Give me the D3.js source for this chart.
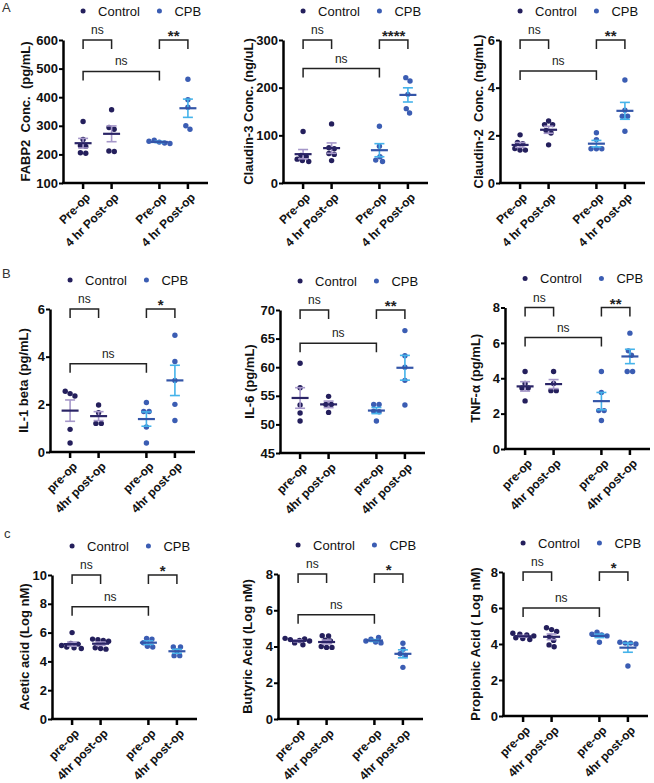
<!DOCTYPE html>
<html>
<head>
<meta charset="utf-8">
<script src="https://cdn.jsdelivr.net/npm/d3@7"></script>
<style>
  body { margin: 0; background: #fff; }
  svg { display: block; font-family: "Liberation Sans", Arial, sans-serif; }
</style>
</head>
<body>
<div id="chart"></div>
<script>
// groups and time points
var groups = ["Control", "CPB"];
var timesA = ["Pre-op", "4 hr Post-op"];
var timesBC = ["pre-op", "4hr post-op"];

// each array: [control pre, control post, cpb pre, cpb post]
var fabp2 = [
  [315, 252, 230, 228, 206, 204],
  [356, 294, 288, 212, 210],
  [250, 246, 243, 240, 238],
  [463, 391, 365, 300, 288]
];
var claudin3 = [
  [108, 58, 55, 50, 47, 45],
  [124, 74, 72, 62, 60, 47],
  [119, 77, 55, 48, 45],
  [221, 214, 186, 156, 147]
];
var claudin2 = [
  [2.02, 1.7, 1.65, 1.45, 1.38, 1.38],
  [2.6, 2.45, 2.45, 2.2, 2.1, 1.6],
  [2.11, 1.82, 1.44, 1.44, 1.44],
  [4.32, 3.05, 2.8, 2.8, 2.17]
];
var il1b = [
  [2.55, 2.45, 2.35, 0.95, 0.38],
  [1.97, 1.65, 1.2, 1.2],
  [2.08, 1.7, 1.7, 1.05, 0.38],
  [4.9, 3.8, 3.0, 2.0, 1.32]
];
var il6 = [
  [60.7, 56.4, 53.4, 52.0, 50.6],
  [54.9, 53.5, 53.5, 52.1],
  [53.5, 53.5, 52.3, 52.2, 50.6],
  [66.4, 62.0, 60.0, 57.7, 53.4]
];
var tnfa = [
  [4.38, 3.7, 3.45, 3.45, 2.72],
  [4.38, 3.7, 3.3, 3.3],
  [4.38, 3.2, 2.17, 2.17, 1.61],
  [6.55, 5.55, 5.3, 4.38, 4.38]
];
var acetic = [
  [6.0, 5.25, 5.2, 5.1, 5.0, 4.95, 4.9],
  [5.55, 5.5, 5.45, 5.4, 4.95, 4.9, 4.85],
  [5.6, 5.55, 5.3, 5.05, 5.0],
  [5.0, 5.0, 4.72, 4.4, 4.4]
];
var butyric = [
  [4.45, 4.42, 4.38, 4.33, 4.3, 4.2, 4.1],
  [4.6, 4.58, 4.35, 4.3, 4.0, 3.95, 3.95],
  [4.5, 4.4, 4.3, 4.25, 4.2],
  [4.18, 3.85, 3.6, 3.5, 2.85]
];
var propionic = [
  [4.6, 4.55, 4.5, 4.45, 4.35, 4.3, 4.25],
  [4.9, 4.8, 4.7, 4.4, 4.2, 3.95, 3.85],
  [4.65, 4.55, 4.5, 4.45, 4.1],
  [4.1, 4.05, 4.05, 4.0, 2.78]
];

// y axis ticks
var ticksFabp2 = [100, 200, 300, 400, 500, 600];
var ticksClaudin3 = [0, 100, 200, 300];
var ticksClaudin2 = [0, 2, 4, 6];
var ticksIl1b = [0, 2, 4, 6];
var ticksIl6 = [45, 50, 55, 60, 65, 70];
var ticksTnfa = [0, 2, 4, 6, 8];
var ticksAcetic = [0, 2, 4, 6, 8, 10];
var ticksButyric = [0, 2, 4, 6, 8];
var ticksPropionic = [0, 2, 4, 6, 8];

var yTitles = ["FABP2  Conc.  (pg/mL)", "Claudin-3 Conc. (ng/uL)", "Claudin-2  Conc. (ng/mL)",
  "IL-1 beta (pg/mL)", "IL-6 (pg/mL)", "TNF-\u03b1 (pg/mL)",
  "Acetic acid (Log nM)", "Butyric Acid (Log nM)", "Propionic Acid ( Log nM)"];

// significance: control pair, cpb pair, control pre vs cpb pre
var sigCtrl = ["ns", "ns", "ns", "ns", "ns", "ns", "ns", "ns", "ns"];
var sigCpb = ["**", "****", "**", "*", "**", "**", "*", "*", "*"];
var sigPre = ["ns", "ns", "ns", "ns", "ns", "ns", "ns", "ns", "ns"];

var panelData = [fabp2, claudin3, claudin2, il1b, il6, tnfa, acetic, butyric, propionic];
var panelTicks = [ticksFabp2, ticksClaudin3, ticksClaudin2, ticksIl1b, ticksIl6, ticksTnfa, ticksAcetic, ticksButyric, ticksPropionic];
var panelTimes = [timesA, timesA, timesA, timesBC, timesBC, timesBC, timesBC, timesBC, timesBC];

// layout (pixels) and long bracket height (data units)
var layout = [
  {left: 63, top: 40, bottom: 183, titleX: -38, longAt: 490},
  {left: 283, top: 40, bottom: 183, titleX: -35, longAt: 240},
  {left: 500, top: 40, bottom: 183, titleX: -22, longAt: 4.7},
  {left: 50, top: 309, bottom: 452, titleX: -27, longAt: 3.7},
  {left: 280, top: 310, bottom: 453, titleX: -31, longAt: 64.2},
  {left: 505, top: 307.5, bottom: 449, titleX: -30, longAt: 6.3},
  {left: 52, top: 575, bottom: 719, titleX: -28, longAt: 7.8},
  {left: 278, top: 574, bottom: 719, titleX: -31, longAt: 5.75},
  {left: 503, top: 572, bottom: 716, titleX: -28, longAt: 6.0}
];

var plotW = 145;
var dotR = 2.7;
var dotColor = ["#241f5c", "#3b5db3"];
var meanColor = ["#2a2466", "#3355a8"];
var errColor = ["#a597c9", "#45b3ea"];

var svg = d3.select("#chart").append("svg")
  .attr("width", 654)
  .attr("height", 783);

svg.append("rect").attr("width", 654).attr("height", 783).attr("fill", "#fff");

// panel letters
svg.append("text").attr("x", 2).attr("y", 12).text("A")
  .style("font-size", "13px").attr("fill", "#333");
svg.append("text").attr("x", 2).attr("y", 278).text("B")
  .style("font-size", "13px").attr("fill", "#333");
svg.append("text").attr("x", 4).attr("y", 538).text("c")
  .style("font-size", "13px").attr("fill", "#333");

// small beeswarm: y stays fixed, x pushed apart to avoid overlap
function spread(vals, y, x0) {
  var n = vals.length;
  var nodes = vals.map(function(v, k) {
    return {x: x0 + (k - (n - 1) / 2) * 0.7, y: y(v), fy: y(v)};
  });
  var sim = d3.forceSimulation(nodes)
    .force("x", d3.forceX(x0).strength(0.08))
    .force("collide", d3.forceCollide(2.7))
    .stop();
  for (var i = 0; i < 300; i++) sim.tick();
  return nodes.map(function(d) { return d.x; });
}

function drawPanel(p) {
  var cfg = layout[p];
  var data = panelData[p];
  var ticks = panelTicks[p];
  var times = panelTimes[p];
  var g = svg.append("g");

  var y = d3.scaleLinear()
    .domain([ticks[0], ticks[ticks.length - 1]])
    .range([cfg.bottom, cfg.top]);

  var gx = d3.scalePoint().domain(groups).range([cfg.left, cfg.left + plotW]).padding(0.45);
  var tx = d3.scalePoint().domain(times).range([-14.25, 14.25]);
  function cx(i) { return gx(groups[Math.floor(i / 2)]) + tx(times[i % 2]); }

  // y axis
  var ya = g.append("g")
    .attr("transform", "translate(" + cfg.left + ",0)")
    .call(d3.axisLeft(y).tickValues(ticks).tickFormat(d3.format("d"))
      .tickSize(4).tickPadding(1).tickSizeOuter(0));
  ya.select(".domain").attr("stroke-width", 2.5).attr("stroke", "#000");
  ya.selectAll(".tick line").attr("stroke-width", 2).attr("stroke", "#000");
  ya.selectAll(".tick text").attr("fill", "#111")
    .style("font-size", "13px").style("font-weight", "bold")
    .style("font-family", "'Liberation Sans', Arial, sans-serif");

  // x axis
  g.append("line")
    .attr("x1", cfg.left - 1).attr("x2", cfg.left + plotW)
    .attr("y1", cfg.bottom).attr("y2", cfg.bottom)
    .attr("stroke", "#000").attr("stroke-width", 2.5);
  var cats = d3.range(4);
  g.selectAll(".xtick").data(cats).enter().append("line")
    .attr("x1", cx).attr("x2", cx)
    .attr("y1", cfg.bottom).attr("y2", cfg.bottom + 6)
    .attr("stroke", "#000").attr("stroke-width", 2.5);
  g.selectAll(".xlab").data(cats).enter().append("text")
    .attr("transform", function(i) { return "translate(" + (cx(i) + 5) + "," + (cfg.bottom + 12) + ") rotate(-45)"; })
    .attr("text-anchor", "end")
    .attr("dy", "0.35em")
    .style("font-size", "12px").style("font-weight", "bold").attr("fill", "#111")
    .text(function(i) { return times[i % 2]; });

  // y title
  g.append("text")
    .attr("transform", "translate(" + (cfg.left + cfg.titleX) + "," + ((cfg.top + cfg.bottom) / 2) + ") rotate(-90)")
    .attr("text-anchor", "middle")
    .attr("dy", "0.35em")
    .style("font-size", "13px").style("font-weight", "bold").style("white-space", "pre")
    .attr("fill", "#111")
    .text(yTitles[p]);

  // legend
  groups.forEach(function(name, gi) {
    var lx = cx(gi * 2);
    g.append("circle").attr("cx", lx).attr("cy", cfg.top - 29).attr("r", 2.5).attr("fill", dotColor[gi]);
    g.append("text").attr("x", lx + 15).attr("y", cfg.top - 29).attr("dy", "0.35em")
      .style("font-size", "13px").attr("fill", "#111").text(name);
  });

  // points, mean and SEM
  data.forEach(function(vals, i) {
    var gi = Math.floor(i / 2);
    var x0 = cx(i);
    var xs = spread(vals, y, x0);
    g.selectAll(null).data(vals).enter().append("circle")
      .attr("cx", function(d, k) { return xs[k]; })
      .attr("cy", function(d) { return y(d); })
      .attr("r", dotR)
      .attr("fill", dotColor[gi]);

    var m = d3.mean(vals);
    var sem = d3.deviation(vals) / Math.sqrt(vals.length);
    var eg = g.append("g").attr("stroke", errColor[gi]).attr("stroke-width", 1.6);
    eg.append("line").attr("x1", x0).attr("x2", x0).attr("y1", y(m - sem)).attr("y2", y(m + sem));
    eg.append("line").attr("x1", x0 - 5).attr("x2", x0 + 5).attr("y1", y(m - sem)).attr("y2", y(m - sem));
    eg.append("line").attr("x1", x0 - 5).attr("x2", x0 + 5).attr("y1", y(m + sem)).attr("y2", y(m + sem));
    g.append("line")
      .attr("x1", x0 - 8.5).attr("x2", x0 + 8.5)
      .attr("y1", y(m)).attr("y2", y(m))
      .attr("stroke", meanColor[gi]).attr("stroke-width", 2.2);
  });

  // brackets
  function bracket(i0, i1, yy, label) {
    var legs = 9;
    g.append("path")
      .attr("d", "M" + cx(i0) + "," + (yy + legs) + "V" + yy + "H" + cx(i1) + "V" + (yy + legs))
      .attr("fill", "none").attr("stroke", "#222").attr("stroke-width", 1.5);
    var star = label != "ns";
    g.append("text")
      .attr("x", (cx(i0) + cx(i1)) / 2)
      .attr("y", star ? yy + 1 : yy - 6)
      .attr("text-anchor", "middle")
      .style("font-size", star ? "15px" : "12px")
      .style("font-weight", star ? "bold" : "normal")
      .attr("fill", "#222")
      .text(label);
  }
  bracket(0, 1, cfg.top, sigCtrl[p]);
  bracket(2, 3, cfg.top, sigCpb[p]);
  bracket(0, 2, y(cfg.longAt), sigPre[p]);
}

d3.range(9).forEach(drawPanel);
</script>
</body>
</html>
